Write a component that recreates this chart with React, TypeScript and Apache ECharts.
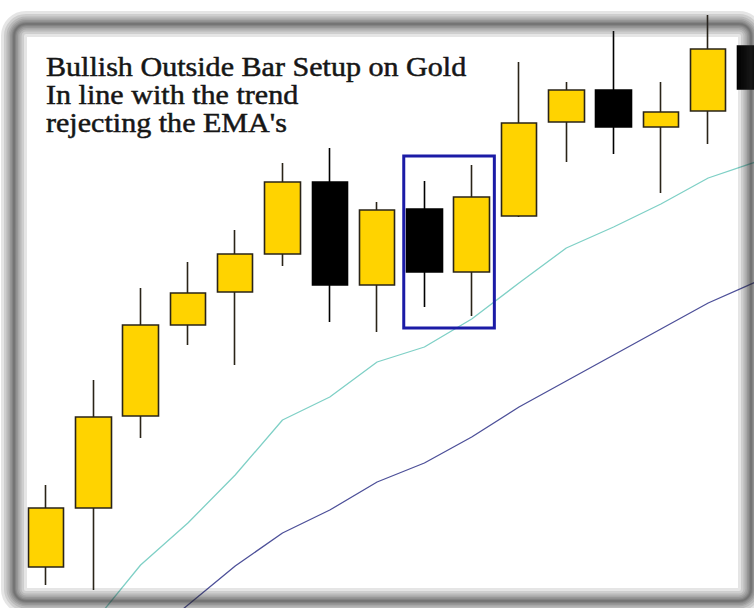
import React, { useEffect, useRef } from "react";
import * as echarts from "echarts";

// Bar labels (no axis labels are shown in the reference)
const categories = ["1","2","3","4","5","6","7","8","9","10","11","12","13","14","15","16"];

// Candles: [open, close, low, high]
const opens  = [1120.5, 1150, 1196, 1241.5, 1258, 1277, 1313, 1261.5, 1299.5, 1268, 1296, 1343, 1359, 1340.5, 1348.5, 1381];
const closes = [1150, 1195.5, 1241.5, 1257.5, 1277, 1313, 1261.5, 1299, 1268, 1305.5, 1342.5, 1359, 1340.5, 1348, 1379.5, 1359.5];
const lows   = [1111.5, 1109, 1185, 1231.5, 1221.5, 1271, 1243, 1238, 1250.5, 1246, 1295.5, 1323, 1327, 1307.5, 1332, 1350];
const highs  = [1161.5, 1214, 1260, 1273, 1289, 1322.5, 1330, 1303, 1313.5, 1321.5, 1373, 1363, 1388.5, 1363, 1396.5, 1393];

// Moving averages
const emaFast = [null, 1092.5, 1121.5, 1142.5, 1166.5, 1194, 1205.5, 1223, 1230.5, 1244.5, 1262.5, 1280, 1290.5, 1302, 1315, 1323];
const emaSlow = [null, null, 1082, 1101.5, 1121, 1137.5, 1149, 1163, 1172.5, 1185.5, 1200.5, 1213.5, 1226.5, 1239.5, 1252.5, 1263];

// Highlighted setup box: [first index, last index, low price, high price]
const setupBox = [[8, 9, 1240, 1326]];

const titleLines = ["Bullish Outside Bar Setup on Gold", "In line with the trend", "rejecting the EMA's"];

export default function App() {
  const ref = useRef<HTMLDivElement>(null);
  useEffect(() => {
    if (!ref.current) return;
    const chart = echarts.init(ref.current, null, { renderer: "svg" });
    const candleData = categories.map((_, i) => [opens[i], closes[i], lows[i], highs[i]]);
    const frameLayers = [26, 20, 15, 11, 8, 5, 3, 1.5].map((w, k) => ({
      type: "rect",
      z: 100 + k,
      silent: true,
      shape: { x: 14, y: 24, width: 737, height: 577, r: 12 },
      style: { fill: "none", stroke: "rgba(40,40,40,0.12)", lineWidth: w },
    }));
    chart.setOption({
      animation: false,
      backgroundColor: "#ffffff",
      grid: { left: 22.35, top: 0, width: 756.8, height: 608, containLabel: false },
      xAxis: {
        type: "category",
        data: categories,
        boundaryGap: true,
        show: false,
      },
      yAxis: {
        type: "value",
        min: 1100,
        max: 1404,
        show: false,
        splitLine: { show: false },
      },
      series: [
        {
          type: "line",
          data: emaFast,
          symbol: "none",
          lineStyle: { color: "#7fd0c6", width: 1.3 },
          z: 2,
        },
        {
          type: "line",
          data: emaSlow,
          symbol: "none",
          lineStyle: { color: "#4d5099", width: 1.3 },
          z: 2,
        },
        {
          type: "candlestick",
          data: candleData,
          barWidth: 36,
          itemStyle: {
            color: "#FFD300",
            color0: "#000000",
            borderColor: "#2a2418",
            borderColor0: "#000000",
            borderWidth: 1.6,
          },
          z: 3,
        },
        {
          type: "custom",
          data: setupBox,
          encode: { x: [0, 1], y: [2, 3] },
          z: 4,
          renderItem: (params: any, api: any) => {
            const p0 = api.coord([api.value(0), api.value(3)]);
            const p1 = api.coord([api.value(1), api.value(2)]);
            const band = api.size([1, 0])[0];
            return {
              type: "rect",
              shape: { x: p0[0] - band / 2 + 3, y: p0[1], width: p1[0] - p0[0] + band - 4, height: p1[1] - p0[1] },
              style: { fill: "none", stroke: "#1b1ba6", lineWidth: 3 },
            };
          },
        },
      ],
      graphic: [
        ...titleLines.map((t, i) => ({
          type: "text",
          z: 90,
          x: 46,
          y: 52 + i * 28,
          scaleX: 1.075,
          style: {
            text: t,
            fill: "#161616",
            stroke: "#161616",
            lineWidth: 0.5,
            font: "28px 'Liberation Serif'",
            textVerticalAlign: "alphabetic",
            textBaseline: "alphabetic",
          },
        })),
        ...frameLayers,
      ],
    });
    return () => chart.dispose();
  }, []);
  return (
    <div style={{ position: "absolute", left: 0, top: 0, width: 754, height: 608, overflow: "hidden", background: "#fff" }}>
      <div ref={ref} style={{ width: 800, height: 608 }} />
    </div>
  );
}
